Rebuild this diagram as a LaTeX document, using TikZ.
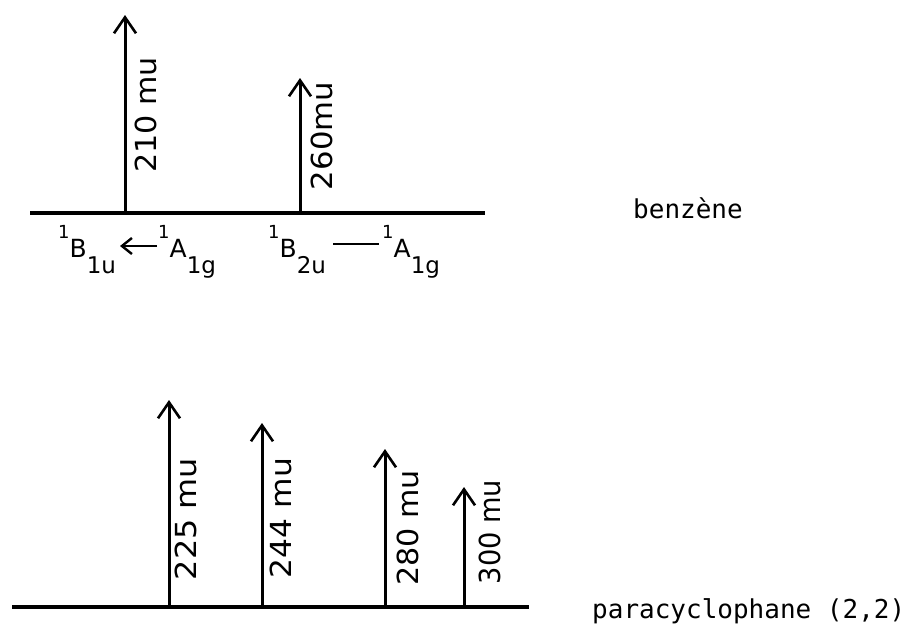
\documentclass[tikz,border=0pt]{standalone}
\usepackage{fontspec}
\setmainfont{DejaVu Sans}
\newfontfamily\monofont{DejaVu Sans Mono}
\usetikzlibrary{arrows.meta}
\newcommand{\stateterm}[3]{\raisebox{19pt}{\fontsize{18}{18}\selectfont #1}#2\raisebox{-16pt}{\fontsize{23}{23}\selectfont #3}}
\begin{document}
\begin{tikzpicture}[x=1pt,y=-1pt,
  axisline/.style={line width=3.2pt},
  specline/.style={line width=3pt,-{Straight Barb[length=16pt,width=22pt,line width=2.6pt]}},
  smallarrow/.style={line width=2.6pt,-{Straight Barb[length=10pt,width=16pt,line width=2.4pt]}},
  plainline/.style={line width=2.4pt},
  stateterm/.style={anchor=base west,inner sep=0pt,font=\fontsize{25}{25}\selectfont},
  wave/.style={rotate=90,inner sep=0pt,font=\fontsize{29}{29}\selectfont},
  molname/.style={anchor=base west,inner sep=0pt,font=\monofont\fontsize{26}{26}\selectfont}]
\useasboundingbox (0,0) rectangle (909,625);

% benzene
\coordinate (axAl) at (30,213);
\coordinate (axAr) at (485,213);
\draw[axisline] (axAl) -- (axAr);
\coordinate (bA1) at (125,213);
\coordinate (tA1) at (125,15);
\coordinate (bA2) at (300,213);
\coordinate (tA2) at (300,78);
\draw[specline] (bA1) -- (tA1);
\draw[specline] (bA2) -- (tA2);
\node[wave] (w210) at (146,115) {\scalebox{1.04}[1]{210 mu}};
\node[wave] (w260) at (322,136) {\scalebox{1.06}[1]{260mu}};

\node[stateterm] (b1u) at (58,257) {\stateterm{1}{B}{1u}};
\node[stateterm] (a1gA) at (158,257) {\stateterm{1}{A}{1g}};
\node[stateterm] (b2u) at (268,257) {\stateterm{1}{B}{2u}};
\node[stateterm] (a1gB) at (382,257) {\stateterm{1}{A}{1g}};
\coordinate (arS) at (157,246);
\coordinate (arE) at (120,246);
\draw[smallarrow] (arS) -- (arE);
\coordinate (lnS) at (333,244);
\coordinate (lnE) at (379,244);
\draw[plainline] (lnS) -- (lnE);

\node[molname] (benz) at (633,218) {benzène};

% paracyclophane
\coordinate (axBl) at (12,607);
\coordinate (axBr) at (529,607);
\draw[axisline] (axBl) -- (axBr);
\coordinate (bB1) at (169,607);
\coordinate (tB1) at (169,400);
\coordinate (bB2) at (262,607);
\coordinate (tB2) at (262,423);
\coordinate (bB3) at (385,607);
\coordinate (tB3) at (385,449);
\coordinate (bB4) at (464,607);
\coordinate (tB4) at (464,487);
\draw[specline] (bB1) -- (tB1);
\draw[specline] (bB2) -- (tB2);
\draw[specline] (bB3) -- (tB3);
\draw[specline] (bB4) -- (tB4);
\node[wave] (w225) at (186,519) {\scalebox{1.1}[1]{225 mu}};
\node[wave] (w244) at (281,518) {\scalebox{1.08}[1]{244 mu}};
\node[wave] (w280) at (408,528) {\scalebox{1.04}[1]{280 mu}};
\node[wave] (w300) at (490,532) {\scalebox{0.94}[1]{300 mu}};

\node[molname] (para) at (592,618) {paracyclophane (2,2)};
\end{tikzpicture}
\end{document}
